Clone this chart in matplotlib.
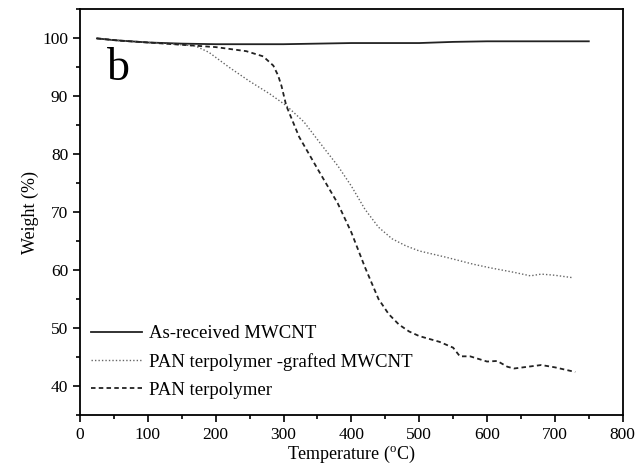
import matplotlib
matplotlib.use('Agg')
import matplotlib.pyplot as plt
from matplotlib.ticker import MultipleLocator

# TGA curves
temp_mwcnt = [25, 50, 100, 150, 200, 250, 300, 350, 400, 450, 500, 550, 600, 650, 700, 750]
weight_mwcnt = [100.0, 99.7, 99.3, 99.1, 99.0, 99.0, 99.0, 99.1, 99.2, 99.2, 99.2, 99.4, 99.5, 99.5, 99.5, 99.5]

temp_grafted = [25, 60, 100, 140, 170, 190, 220, 250, 280, 304, 330, 360, 380, 400, 420, 440, 460, 480,
                500, 540, 580, 604, 640, 664, 680, 700, 725]
weight_grafted = [100.0, 99.6, 99.3, 99.0, 98.7, 97.6, 95.0, 92.6, 90.4, 88.4, 85.6, 81.0, 78.0, 74.5,
                  70.5, 67.4, 65.4, 64.2, 63.3, 62.2, 61.0, 60.4, 59.6, 59.0, 59.3, 59.1, 58.7]

temp_pan = [25, 60, 100, 150, 200, 245, 270, 285, 292, 297, 304, 323, 350, 380, 400, 420, 440, 455, 470,
            485, 500, 530, 550, 560, 575, 600, 615, 630, 640, 660, 680, 700, 730]
weight_pan = [100.0, 99.6, 99.3, 98.9, 98.5, 97.8, 96.9, 95.3, 93.6, 91.8, 88.4, 83.0, 77.5, 71.5, 66.5,
              60.5, 55.0, 52.4, 50.6, 49.4, 48.6, 47.6, 46.6, 45.1, 45.1, 44.2, 44.3, 43.3, 43.0, 43.3,
              43.6, 43.2, 42.4]

plt.rcParams['font.family'] = ['Liberation Serif', 'DejaVu Serif']

fig = plt.figure(figsize=(6.4, 4.73), dpi=100)
ax = fig.add_axes([0.125, 0.123, 0.848, 0.857])

ax.plot(temp_mwcnt, weight_mwcnt, color='#222222', lw=1.3, label='As-received MWCNT')
ax.plot(temp_grafted, weight_grafted, color='#666666', lw=1.0, linestyle=(0, (1, 1.5)),
        label='PAN terpolymer -grafted MWCNT')
ax.plot(temp_pan, weight_pan, color='#222222', lw=1.3, linestyle=(0, (2.5, 1.8)),
        label='PAN terpolymer')

ax.set_xlim(0, 800)
ax.set_ylim(35, 105)
ax.xaxis.set_major_locator(MultipleLocator(100))
ax.xaxis.set_minor_locator(MultipleLocator(50))
ax.yaxis.set_major_locator(MultipleLocator(10))
ax.yaxis.set_minor_locator(MultipleLocator(5))
ax.set_yticks(range(40, 101, 10))
ax.tick_params(which='major', direction='out', length=5, width=1.2, labelsize=12.5)
ax.tick_params(which='minor', direction='out', length=3, width=1.2)
for s in ax.spines.values():
    s.set_linewidth(1.3)

ax.set_xlabel('Temperature ($^\\mathregular{o}$C)', fontsize=13, labelpad=1)
ax.set_ylabel('Weight (%)', fontsize=13, labelpad=2)

ax.text(0.05, 0.905, 'b', transform=ax.transAxes, fontsize=33, va='top', ha='left')

ax.legend(loc='lower left', frameon=False, fontsize=13.5, handlelength=2.7, handletextpad=0.4,
          labelspacing=0.57, borderaxespad=0.2, bbox_to_anchor=(0.0, 0.012))

fig.savefig('out.png', dpi=100)
